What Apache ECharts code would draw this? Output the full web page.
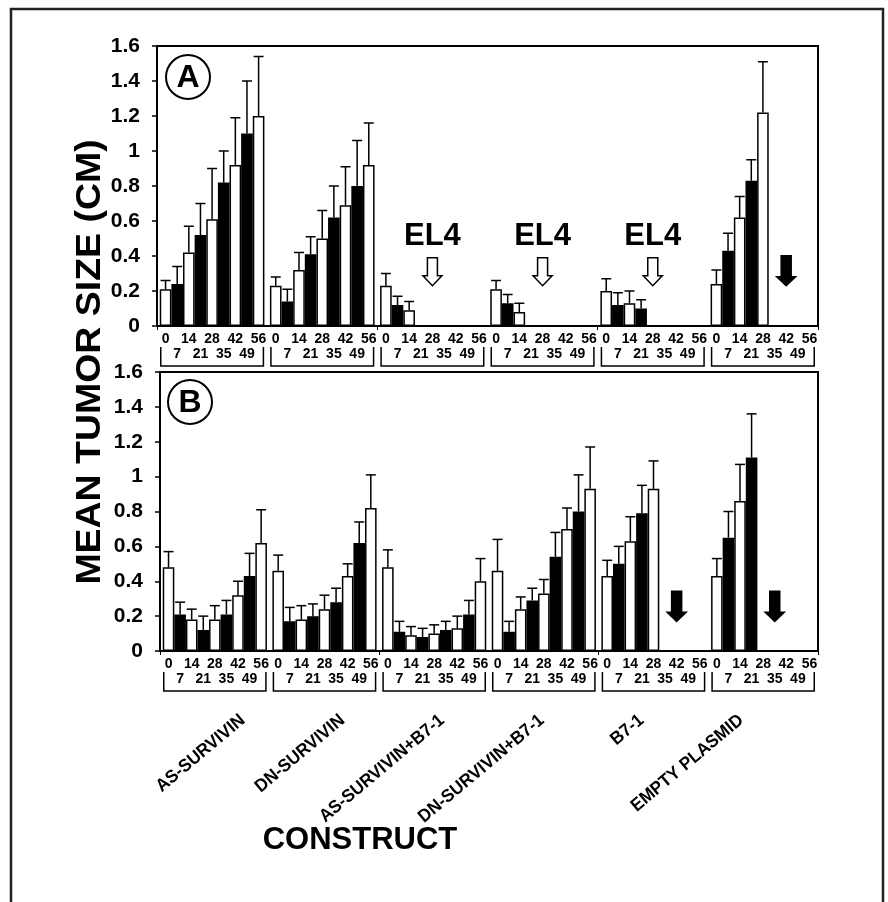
<!DOCTYPE html>
<html>
<head>
<meta charset="utf-8">
<script src="https://cdn.jsdelivr.net/npm/echarts@6/dist/echarts.min.js"></script>
<style>html,body{margin:0;padding:0;background:#fff;}#c{width:888px;height:902px;}</style>
</head>
<body>
<div id="c"></div>
<script>
// ---------- DATA ----------
const constructs = ['AS-SURVIVIN', 'DN-SURVIVIN', 'AS-SURVIVIN+B7-1', 'DN-SURVIVIN+B7-1', 'B7-1', 'EMPTY PLASMID'];
const days = [0, 7, 14, 21, 28, 35, 42, 49, 56];

// Panel A: mean tumor size (cm) per construct, per day
const panelAMean = [
  [0.21, 0.24, 0.42, 0.52, 0.61, 0.82, 0.92, 1.10, 1.20],
  [0.23, 0.14, 0.32, 0.41, 0.50, 0.62, 0.69, 0.80, 0.92],
  [0.23, 0.12, 0.09],
  [0.21, 0.13, 0.08],
  [0.20, 0.12, 0.13, 0.10],
  [0.24, 0.43, 0.62, 0.83, 1.22]
];
const panelAErr = [
  [0.05, 0.10, 0.15, 0.18, 0.29, 0.18, 0.27, 0.30, 0.34],
  [0.05, 0.07, 0.10, 0.10, 0.16, 0.18, 0.22, 0.26, 0.24],
  [0.07, 0.05, 0.05],
  [0.05, 0.05, 0.05],
  [0.07, 0.07, 0.07, 0.05],
  [0.08, 0.10, 0.12, 0.12, 0.29]
];
// Panel B
const panelBMean = [
  [0.48, 0.21, 0.18, 0.12, 0.18, 0.21, 0.32, 0.43, 0.62],
  [0.46, 0.17, 0.18, 0.20, 0.24, 0.28, 0.43, 0.62, 0.82],
  [0.48, 0.11, 0.09, 0.08, 0.10, 0.12, 0.13, 0.21, 0.40],
  [0.46, 0.11, 0.24, 0.29, 0.33, 0.54, 0.70, 0.80, 0.93],
  [0.43, 0.50, 0.63, 0.79, 0.93],
  [0.43, 0.65, 0.86, 1.11]
];
const panelBErr = [
  [0.09, 0.07, 0.06, 0.08, 0.08, 0.08, 0.08, 0.13, 0.19],
  [0.09, 0.08, 0.08, 0.07, 0.08, 0.08, 0.07, 0.12, 0.19],
  [0.10, 0.06, 0.05, 0.05, 0.05, 0.05, 0.07, 0.08, 0.13],
  [0.18, 0.06, 0.07, 0.07, 0.08, 0.14, 0.12, 0.21, 0.24],
  [0.09, 0.10, 0.14, 0.16, 0.16],
  [0.10, 0.15, 0.21, 0.25]
];

// Annotations: [construct index, day index]
const el4MarksA = [[2, 4], [3, 4], [4, 4]];
const deadMarksA = [[5, 6]];
const deadMarksB = [[4, 6], [5, 5]];
const arrowTipA = 0.23;
const arrowTipB = 0.17;
const el4Label = 'EL4';
const yTitle = 'MEAN TUMOR SIZE (CM)';
const xTitle = 'CONSTRUCT';

// ---------- CHART ----------
const FONT = '"Liberation Sans", Arial, Helvetica, sans-serif';
const CAT_GAP = 0.05;
const N = days.length;

function barX(api, ci, di) {
  const c = api.coord([ci, 0]);
  const w = api.size([1, 0])[0];
  const inner = w * (1 - CAT_GAP);
  return c[0] - inner / 2 + (di + 0.5) * inner / N;
}
function groupEdges(api, ci) {
  const c = api.coord([ci, 0]);
  const w = api.size([1, 0])[0];
  const inner = w * (1 - CAT_GAP);
  return [c[0] - inner / 2, c[0] + inner / 2, c[1]];
}

function barSeries(means, gi) {
  return days.map((d, j) => ({
    type: 'bar', xAxisIndex: gi, yAxisIndex: gi, name: 'day ' + d,
    barGap: '0%', barCategoryGap: (CAT_GAP * 100) + '%',
    itemStyle: { color: j % 2 === 0 ? '#fff' : '#000', borderColor: '#000', borderWidth: 1.5 },
    data: constructs.map((c, i) => (means[i][j] != null ? means[i][j] : '-')),
    z: 2, silent: true
  }));
}

function errSeries(means, errs, gi) {
  const data = [];
  means.forEach((row, i) => row.forEach((m, j) => data.push([i, j, m, errs[i][j]])));
  return {
    type: 'custom', xAxisIndex: gi, yAxisIndex: gi, z: 5, silent: true, clip: false,
    encode: { x: 0, y: 2 },
    data: data,
    renderItem: function (params, api) {
      const ci = api.value(0), di = api.value(1), m = api.value(2), e = api.value(3);
      const x = barX(api, ci, di);
      const y0 = api.coord([ci, m])[1];
      const y1 = api.coord([ci, m + e])[1];
      const st = { stroke: '#000', lineWidth: 1.5 };
      return { type: 'group', children: [
        { type: 'line', shape: { x1: x, y1: y0, x2: x, y2: y1 }, style: st },
        { type: 'line', shape: { x1: x - 5, y1: y1, x2: x + 5, y2: y1 }, style: st }
      ] };
    }
  };
}

function arrowPoints(x, tipY, shaft, head, shw, hhw) {
  return [[x - shw, tipY - head - shaft], [x + shw, tipY - head - shaft], [x + shw, tipY - head],
          [x + hhw, tipY - head], [x, tipY], [x - hhw, tipY - head], [x - shw, tipY - head]];
}

function arrowSeries(marks, tip, hollow, withLabel, gi) {
  return {
    type: 'custom', xAxisIndex: gi, yAxisIndex: gi, z: 6, silent: true, clip: false,
    encode: { x: 0, y: 2 },
    data: marks.map(m => [m[0], m[1], tip]),
    renderItem: function (params, api) {
      const ci = api.value(0), di = api.value(1), t = api.value(2);
      const x = barX(api, ci, di);
      const tipY = api.coord([ci, t])[1];
      const children = [{
        type: 'polygon',
        shape: { points: arrowPoints(x, tipY, hollow ? 18 : 21, hollow ? 10 : 9, 5, 9.5) },
        style: { fill: hollow ? '#fff' : '#000', stroke: '#000', lineWidth: 1.5 }
      }];
      if (withLabel) {
        children.push({ type: 'text', style: { text: el4Label, x: x, y: tipY - 49,
          align: 'center', verticalAlign: 'middle', font: 'bold 31px ' + FONT, fill: '#000' } });
      }
      return { type: 'group', children: children };
    }
  };
}

function dayLabelSeries(gi) {
  return {
    type: 'custom', xAxisIndex: gi, yAxisIndex: gi, z: 6, silent: true, clip: false,
    encode: { x: 0, y: 1 },
    data: constructs.map((c, i) => [i, 0]),
    renderItem: function (params, api) {
      const ci = api.value(0);
      const ed = groupEdges(api, ci);
      const y0 = ed[2];
      const children = [];
      days.forEach((d, j) => {
        children.push({ type: 'text', style: { text: String(d), x: barX(api, ci, j),
          y: y0 + (j % 2 === 0 ? 13 : 28), align: 'center', verticalAlign: 'middle',
          font: 'bold 14px ' + FONT, fill: '#000' } });
      });
      children.push({ type: 'polyline', shape: { points: [[ed[0] + 1, y0 + 21], [ed[0] + 1, y0 + 40],
        [ed[1] - 1, y0 + 40], [ed[1] - 1, y0 + 21]] }, style: { stroke: '#000', lineWidth: 1.5, fill: 'none' } });
      return { type: 'group', children: children };
    }
  };
}

// construct names under panel B, drawn on a label-only category axis
function constructLabelSeries(gi) {
  return {
    type: 'custom', xAxisIndex: gi, yAxisIndex: gi, z: 6, silent: true, clip: false,
    encode: { x: 0, y: 1 },
    data: constructs.map((c, i) => [i, 0]),
    renderItem: function (params, api) {
      const ci = api.value(0);
      const c = api.coord([ci, 0]);
      return { type: 'text', x: c[0], y: c[1] + 17, rotation: 40 * Math.PI / 180, scaleX: 0.95,
        style: { text: constructs[ci], align: 'right', verticalAlign: 'middle',
          font: 'bold 18px ' + FONT, fill: '#000' } };
    }
  };
}

function yAxisFor(gi, margin) {
  return {
    gridIndex: gi, type: 'value', min: 0, max: 1.6, interval: 0.2,
    axisLine: { show: true, lineStyle: { color: '#000', width: 2 } },
    axisTick: { show: true, length: 5, lineStyle: { color: '#000', width: 1.5 } },
    splitLine: { show: false },
    axisLabel: { color: '#000', fontFamily: FONT, fontWeight: 'bold', fontSize: 21, margin: margin }
  };
}
function xAxisFor(gi) {
  return {
    gridIndex: gi, type: 'category', data: constructs,
    axisLine: { show: true, lineStyle: { color: '#000', width: 2 } },
    axisTick: { show: true, length: 4, lineStyle: { color: '#000', width: 1 } },
    axisLabel: { show: false }
  };
}

const option = {
  animation: false,
  backgroundColor: '#fff',
  grid: [
    { left: 157, top: 46, width: 661, height: 280, show: true, borderColor: '#000', borderWidth: 2 },
    { left: 160, top: 372, width: 658, height: 279, show: true, borderColor: '#000', borderWidth: 2 },
    { left: 193, top: 700, width: 598, height: 1, show: false }
  ],
  xAxis: [
    xAxisFor(0), xAxisFor(1),
    { gridIndex: 2, type: 'category', data: constructs, show: false }
  ],
  yAxis: [
    yAxisFor(0, 17), yAxisFor(1, 17),
    { gridIndex: 2, type: 'value', show: false, min: 0, max: 1 }
  ],
  graphic: [
    { type: 'rect', shape: { x: 11, y: 9, width: 872, height: 920 }, style: { fill: 'none', stroke: '#222', lineWidth: 2.5 }, silent: true },
    { type: 'circle', shape: { cx: 188, cy: 77, r: 22 }, style: { fill: '#fff', stroke: '#000', lineWidth: 2 }, z: 10 },
    { type: 'text', x: 188, y: 78, style: { text: 'A', align: 'center', verticalAlign: 'middle', font: 'bold 32px ' + FONT, fill: '#000' }, z: 11 },
    { type: 'circle', shape: { cx: 190, cy: 402, r: 22 }, style: { fill: '#fff', stroke: '#000', lineWidth: 2 }, z: 10 },
    { type: 'text', x: 190, y: 403, style: { text: 'B', align: 'center', verticalAlign: 'middle', font: 'bold 32px ' + FONT, fill: '#000' }, z: 11 },
    { type: 'text', x: 90, y: 362, rotation: Math.PI / 2, scaleX: 1.07,
      style: { text: yTitle, align: 'center', verticalAlign: 'middle', font: 'bold 35px ' + FONT, fill: '#000' } },
    { type: 'text', x: 360, y: 840, style: { text: xTitle, align: 'center', verticalAlign: 'middle', font: 'bold 31px ' + FONT, fill: '#000' } }
  ],
  series: [].concat(
    barSeries(panelAMean, 0),
    barSeries(panelBMean, 1),
    [errSeries(panelAMean, panelAErr, 0), errSeries(panelBMean, panelBErr, 1),
     arrowSeries(el4MarksA, arrowTipA, true, true, 0),
     arrowSeries(deadMarksA, arrowTipA, false, false, 0),
     arrowSeries(deadMarksB, arrowTipB, false, false, 1),
     dayLabelSeries(0), dayLabelSeries(1), constructLabelSeries(2)]
  )
};

const chart = echarts.init(document.getElementById('c'), null, { renderer: 'canvas' });
chart.setOption(option);
</script>
</body>
</html>
